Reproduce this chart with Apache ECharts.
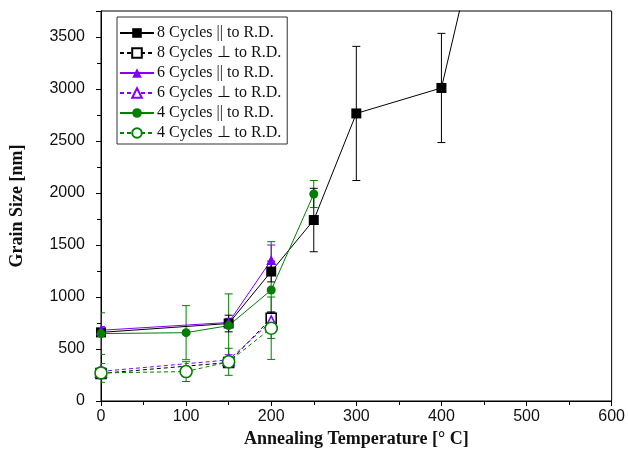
<!DOCTYPE html>
<html><head><meta charset="utf-8">
<script src="https://cdn.jsdelivr.net/npm/echarts@6/dist/echarts.min.js"></script>
<style>html,body{margin:0;padding:0;background:#fff}#c{width:628px;height:462px}</style>
</head><body><div id="c"></div>
<script>
// ---- data ----
const xTicks = [0, 100, 200, 300, 400, 500, 600];
const yTicks = [0, 500, 1000, 1500, 2000, 2500, 3000, 3500];

const t8par = [0, 150, 200, 250, 300, 400, 500];
const g8par = [660, 745, 1245, 1740, 2765, 3010, 6500];
const e8par = [30, 80, 100, 305, 645, 525, 0];

const t8perp = [0, 150, 200];
const g8perp = [265, 370, 795];
const e8perp = [40, 30, 60];

const t6par = [0, 150, 200];
const g6par = [680, 755, 1355];
const e6par = [35, 40, 145];

const t6perp = [0, 150, 200];
const g6perp = [285, 395, 765];
const e6perp = [35, 50, 90];

const t4par = [0, 100, 150, 200, 250];
const g4par = [648, 657, 725, 1067, 1990];
const e4par = [200, 260, 305, 465, 130];

const t4perp = [0, 100, 150, 200];
const g4perp = [270, 283, 377, 700];
const e4perp = [90, 95, 130, 300];

const names = ['8 Cycles || to R.D.', '8 Cycles \u22A5 to R.D.', '6 Cycles || to R.D.',
               '6 Cycles \u22A5 to R.D.', '4 Cycles || to R.D.', '4 Cycles \u22A5 to R.D.'];

// ---- build ----
const BLACK = '#000000', PURPLE = '#8000ff', GREEN = '#008000';
function pts(t, g) { return t.map((x, i) => [x, g[i]]); }
function errs(t, g, e) { return t.map((x, i) => [x, g[i] - e[i], g[i] + e[i]]).filter(d => d[2] > d[1]); }

function lineSeries(name, t, g, color, symbol, size, hollow, dashed) {
  return {
    name, type: 'line', data: pts(t, g), symbol, symbolSize: size, clip: true, z: 3,
    lineStyle: { color, width: 1, type: dashed ? [4, 3] : 'solid' },
    itemStyle: hollow ? { color: '#ffffff', borderColor: color, borderWidth: 1.6 } : { color, borderColor: color, borderWidth: 0 },
    emphasis: { disabled: true }, animation: false
  };
}
function errSeries(t, g, e, color) {
  return {
    type: 'custom', data: errs(t, g, e), z: 2, animation: false, clip: true,
    encode: { x: 0, y: [1, 2] },
    renderItem(params, api) {
      const x = api.value(0);
      const lo = api.coord([x, api.value(1)]);
      const hi = api.coord([x, api.value(2)]);
      const w = 4;
      const st = { stroke: color, lineWidth: 1 };
      return { type: 'group', children: [
        { type: 'line', shape: { x1: lo[0], y1: lo[1], x2: hi[0], y2: hi[1] }, style: st },
        { type: 'line', shape: { x1: lo[0] - w, y1: lo[1], x2: lo[0] + w, y2: lo[1] }, style: st },
        { type: 'line', shape: { x1: hi[0] - w, y1: hi[1], x2: hi[0] + w, y2: hi[1] }, style: st }
      ]};
    }
  };
}

const series = [
  errSeries(t4par, g4par, e4par, GREEN),
  errSeries(t4perp, g4perp, e4perp, GREEN),
  errSeries(t6par, g6par, e6par, PURPLE),
  errSeries(t6perp, g6perp, e6perp, PURPLE),
  errSeries(t8par, g8par, e8par, BLACK),
  errSeries(t8perp, g8perp, e8perp, BLACK),
  lineSeries(names[0], t8par, g8par, BLACK, 'rect', 10, false, false),
  lineSeries(names[1], t8perp, g8perp, BLACK, 'rect', 10, true, true),
  lineSeries(names[2], t6par, g6par, PURPLE, 'triangle', 10, false, false),
  lineSeries(names[3], t6perp, g6perp, PURPLE, 'triangle', 11, true, true),
  lineSeries(names[4], t4par, g4par, GREEN, 'circle', 9, false, false),
  lineSeries(names[5], t4perp, g4perp, GREEN, 'circle', 12, true, true)
];

const chart = echarts.init(document.getElementById('c'), null, { renderer: 'canvas' });
chart.setOption({
  backgroundColor: '#ffffff',
  animation: false,
  grid: { left: 101, right: 16, top: 11, bottom: 61, show: true, borderColor: '#000', borderWidth: 1, backgroundColor: 'transparent' },
  legend: {
    data: names, orient: 'vertical', left: 117, top: 17,
    itemWidth: 34, itemHeight: 12, itemGap: 4,
    padding: [8, 6, 3, 2],
    borderColor: '#333', borderWidth: 1, backgroundColor: '#fff',
    textStyle: { fontFamily: 'Liberation Serif', fontSize: 16, color: '#111', padding: [0, 0, 0, -2] },
    selectedMode: false
  },
  xAxis: {
    type: 'value', min: 0, max: 600, interval: 100,
    name: 'Annealing Temperature [\u00B0 C]', nameLocation: 'middle', nameGap: 27,
    nameTextStyle: { fontFamily: 'Liberation Serif', fontWeight: 'bold', fontSize: 18, color: '#111' },
    axisLine: { lineStyle: { color: '#000', width: 1 } },
    axisTick: { inside: false, length: 5, lineStyle: { color: '#000' } },
    minorTick: { show: true, splitNumber: 2, length: 4, lineStyle: { color: '#000' } },
    axisLabel: { fontFamily: 'Liberation Sans', fontSize: 16, color: '#111', margin: 8,
      formatter: v => xTicks.includes(v) ? String(v) : '' },
    splitLine: { show: false }
  },
  yAxis: {
    type: 'value', min: 0, max: 3750, interval: 500,
    name: 'Grain Size [nm]', nameLocation: 'middle', nameGap: 75, nameRotate: 90,
    nameTextStyle: { fontFamily: 'Liberation Serif', fontWeight: 'bold', fontSize: 18, color: '#111' },
    axisLine: { show: true, lineStyle: { color: '#000', width: 1 } },
    axisTick: { show: true, inside: false, length: 5, lineStyle: { color: '#000' } },
    minorTick: { show: true, splitNumber: 2, length: 4, lineStyle: { color: '#000' } },
    axisLabel: { fontFamily: 'Liberation Sans', fontSize: 16, color: '#111', margin: 16,
      formatter: v => yTicks.includes(v) ? String(v) : '' },
    splitLine: { show: false }
  },
  series
});
</script></body></html>
